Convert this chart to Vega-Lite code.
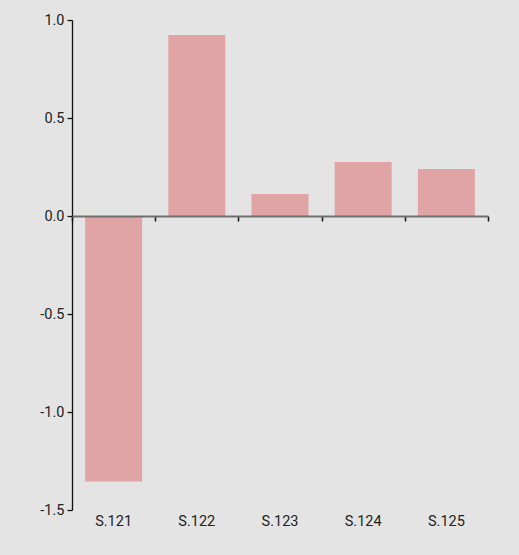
{
  "$schema": "https://vega.github.io/schema/vega-lite/v6.json",
  "width": 416,
  "height": 490,
  "autosize": {"type": "none"},
  "padding": {"left": 72, "top": 20, "right": 31, "bottom": 45},
  "background": "#e4e4e4",
  "config": {
    "view": {"stroke": null},
    "axis": {"labelFont": "Roboto", "labelFontSize": 14.5, "labelColor": "#222222", "grid": false}
  },
  "data": {"values": [
    {"series": "S.121", "value": -1.355},
    {"series": "S.122", "value": 0.923},
    {"series": "S.123", "value": 0.112},
    {"series": "S.124", "value": 0.276},
    {"series": "S.125", "value": 0.240}
  ]},
  "layer": [
    {
      "mark": {"type": "bar", "color": "#e0a4a5", "width": {"band": 0.685}},
      "encoding": {
        "x": {"field": "series", "type": "nominal", "sort": null,
              "scale": {"paddingInner": 0, "paddingOuter": 0},
              "axis": {"title": null, "domain": false, "ticks": false, "labelAngle": 0, "labelPadding": 4, "orient": "bottom"}},
        "y": {"field": "value", "type": "quantitative",
              "scale": {"domain": [-1.5, 1.0], "nice": false, "zero": false},
              "axis": {"title": null, "values": [-1.5, -1, -0.5, 0, 0.5, 1], "format": ".1f",
                       "labelExpr": "replace(datum.label, '\u2212', '-')",
                       "domainColor": "#111111", "domainWidth": 1.3, "tickColor": "#111111", "tickWidth": 1.3, "tickSize": 5, "labelPadding": 3}}
      }
    },
    {
      "mark": {"type": "bar", "opacity": 0},
      "encoding": {
        "x": {"field": "series", "type": "nominal", "sort": null,
              "axis": {"title": null, "labels": false, "orient": "bottom", "offset": -294, "tickBand": "extent",
                       "domainColor": "#6e6e6e", "domainWidth": 2, "tickColor": "#111111", "tickWidth": 1.5, "tickSize": 5, "zindex": 1}},
        "y": {"field": "value", "type": "quantitative"}
      }
    }
  ],
  "resolve": {"axis": {"x": "independent"}}
}
